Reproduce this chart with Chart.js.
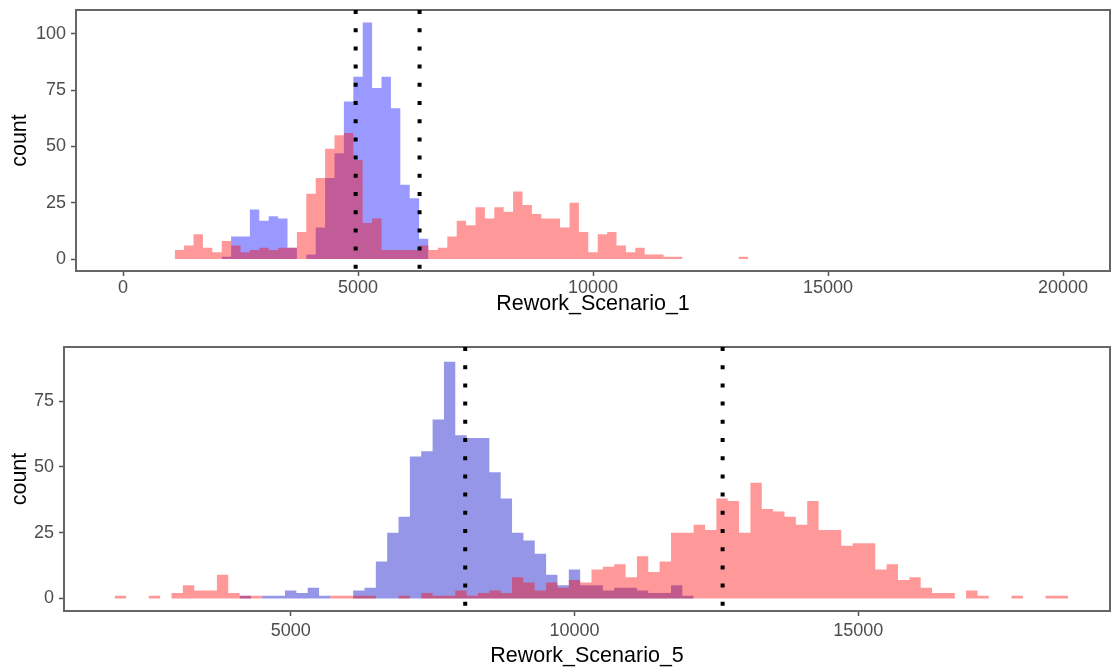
<!DOCTYPE html>
<html>
<head>
<meta charset="utf-8">
<script src="https://cdn.jsdelivr.net/npm/chart.js@4.4.1/dist/chart.umd.min.js"></script>
<style>
  html, body { margin: 0; padding: 0; background: #fff; }
  body { width: 1112px; height: 671px; position: relative; overflow: hidden; }
  .panel { position: absolute; left: 0; width: 1112px; }
  #top { top: 0; height: 330px; }
  #bottom { top: 330px; height: 341px; }
</style>
</head>
<body>
<div class="panel" id="top"><canvas id="chart1"></canvas></div>
<div class="panel" id="bottom"><canvas id="chart2"></canvas></div>
<script>
// histogram bins are 200 wide, counts listed from the centre of the first bin
const binWidth = 200;

// Rework_Scenario_1
const s1RedStart = 1200;
const s1Red = [4, 6, 11, 5, 3, 8, 6, 3, 4, 5, 4, 5, 5, 12, 29, 36, 49, 55, 56, 44,
  16, 18, 4, 4, 4, 4, 6, 4, 5, 10, 17, 15, 23, 18, 23, 21, 30, 24, 20, 18,
  18, 14, 25, 12, 3, 11, 12, 6, 3, 5, 2, 2, 1, 1, 0, 0, 0, 0, 0, 0, 1];
const s1BlueStart = 2200;
const s1Blue = [1, 10, 10, 22, 17, 19, 18, 5, 0, 2, 14, 36, 47, 70, 81, 105, 76, 81, 67, 33, 27, 9];
const s1Lines = [4950, 6310];
const s1XTicks = [0, 5000, 10000, 15000, 20000];
const s1YTicks = [0, 25, 50, 75, 100];

// Rework_Scenario_5
const s5RedStart = 2000;
const s5Red = [1, 0, 0, 1, 0, 2, 5, 3, 3, 9, 2, 1, 1, 0, 0, 0, 0, 0, 0, 1,
  1, 1, 1, 0, 0, 1, 0, 2, 1, 1, 3, 1, 2, 3, 2, 8, 6, 3, 6, 4,
  7, 6, 11, 12, 13, 8, 16, 10, 14, 25, 25, 28, 26, 38, 37, 25, 44, 34, 33, 31,
  28, 37, 26, 26, 20, 21, 21, 11, 13, 7, 8, 4, 2, 2, 0, 3, 1, 0, 0, 1,
  0, 0, 1, 1];
const s5BlueStart = 4200;
const s5Blue = [1, 0, 1, 1, 3, 2, 4, 1, 0, 0, 3, 4, 14, 25, 31, 54, 56, 68, 90, 62,
  61, 61, 48, 38, 25, 22, 17, 9, 5, 11, 5, 5, 3, 4, 4, 3, 2, 2, 5, 1];
const s5Lines = [8075, 12610];
const s5XTicks = [5000, 10000, 15000];
const s5YTicks = [0, 25, 50, 75];

const redFill = 'rgba(255, 0, 0, 0.4)';
const blueFill1 = 'rgba(0, 0, 255, 0.4)';
const blueFill5 = 'rgba(0, 0, 200, 0.41)';

// left edge of every bin, then one point to close the last bin
function steps(start, counts) {
  const pts = counts.map((c, i) => ({ x: start - binWidth / 2 + i * binWidth, y: c }));
  pts.push({ x: start - binWidth / 2 + counts.length * binWidth, y: 0 });
  return pts;
}

function histSet(start, counts, color) {
  return {
    data: steps(start, counts),
    stepped: true,
    fill: 'origin',
    backgroundColor: color,
    borderColor: 'transparent',
    borderWidth: 0,
    pointRadius: 0
  };
}

function vlineSet(x, lo, hi) {
  return {
    data: [{ x: x, y: hi }, { x: x, y: lo }],
    borderColor: '#000',
    borderWidth: 4,
    borderDash: [4, 14.2],
    borderCapStyle: 'butt',
    pointRadius: 0,
    fill: false
  };
}

const panelBox = {
  id: 'panelBox',
  beforeDatasetsDraw(chart) {
    const { ctx, chartArea: a } = chart;
    ctx.save();
    ctx.strokeStyle = '#666';
    ctx.lineWidth = 2;
    ctx.strokeRect(a.left, a.top, a.right - a.left, a.bottom - a.top);
    ctx.restore();
  }
};

const tickFont = { family: 'Liberation Sans, Arial, sans-serif', size: 18 };
const titleFont = { family: 'Liberation Sans, Arial, sans-serif', size: 21.5 };

// fixed axis sizes, and no extra room for edge labels
function fixSize(prop, size) {
  return s => {
    s[prop] = size;
    s.paddingTop = 0; s.paddingBottom = 0; s.paddingLeft = 0; s.paddingRight = 0;
  };
}

function makeChart(id, cfg) {
  const ctx = document.getElementById(id).getContext('2d');
  return new Chart(ctx, {
    type: 'line',
    data: {
      datasets: [
        vlineSet(cfg.lines[0], cfg.yMin, cfg.yMax),
        vlineSet(cfg.lines[1], cfg.yMin, cfg.yMax),
        histSet(cfg.redStart, cfg.red, redFill),
        histSet(cfg.blueStart, cfg.blue, cfg.blueColor)
      ]
    },
    options: {
      responsive: true,
      maintainAspectRatio: false,
      devicePixelRatio: 1,
      animation: false,
      layout: { padding: cfg.padding, autoPadding: false },
      plugins: { legend: { display: false }, tooltip: { enabled: false } },
      scales: {
        x: {
          type: 'linear',
          min: cfg.xMin,
          max: cfg.xMax,
          afterBuildTicks: s => { s.ticks = cfg.xTicks.map(v => ({ value: v })); },
          afterFit: fixSize('height', cfg.xHeight),
          grid: { drawOnChartArea: false, drawTicks: true, tickLength: 5, tickColor: '#555', tickWidth: 1.5 },
          border: { display: false },
          ticks: { font: tickFont, color: '#4d4d4d', padding: cfg.xTickPad, maxRotation: 0, autoSkip: false, callback: v => String(v) },
          title: { display: true, text: cfg.xTitle, font: titleFont, color: '#000', padding: { top: 0, bottom: cfg.xTitlePad } }
        },
        y: {
          type: 'linear',
          min: cfg.yMin,
          max: cfg.yMax,
          afterBuildTicks: s => { s.ticks = cfg.yTicks.map(v => ({ value: v })); },
          afterFit: fixSize('width', cfg.yWidth),
          grid: { drawOnChartArea: false, drawTicks: true, tickLength: 5, tickColor: '#555', tickWidth: 1.5 },
          border: { display: false },
          ticks: { font: tickFont, color: '#4d4d4d', padding: 5, callback: v => String(v) },
          title: { display: true, text: 'count', font: titleFont, color: '#000', padding: { top: 7, bottom: 0 } }
        }
      }
    },
    plugins: [panelBox]
  });
}

makeChart('chart1', {
  lines: s1Lines, red: s1Red, redStart: s1RedStart, blue: s1Blue, blueStart: s1BlueStart,
  blueColor: blueFill1, xTicks: s1XTicks, yTicks: s1YTicks,
  xMin: -1000, xMax: 21000, yMin: -5.3, yMax: 110.6,
  padding: { top: 10, right: 2, left: 0, bottom: 0 },
  xHeight: 59, yWidth: 76, xTickPad: 1, xTitlePad: 13, xTitle: 'Rework_Scenario_1'
});

makeChart('chart2', {
  lines: s5Lines, red: s5Red, redStart: s5RedStart, blue: s5Blue, blueStart: s5BlueStart,
  blueColor: blueFill5, xTicks: s5XTicks, yTicks: s5YTicks,
  xMin: 1006, xMax: 19435, yMin: -4.8, yMax: 95.6,
  padding: { top: 17, right: 2, left: 0, bottom: 0 },
  xHeight: 60, yWidth: 64, xTickPad: 4, xTitlePad: 2, xTitle: 'Rework_Scenario_5'
});
</script>
</body>
</html>
